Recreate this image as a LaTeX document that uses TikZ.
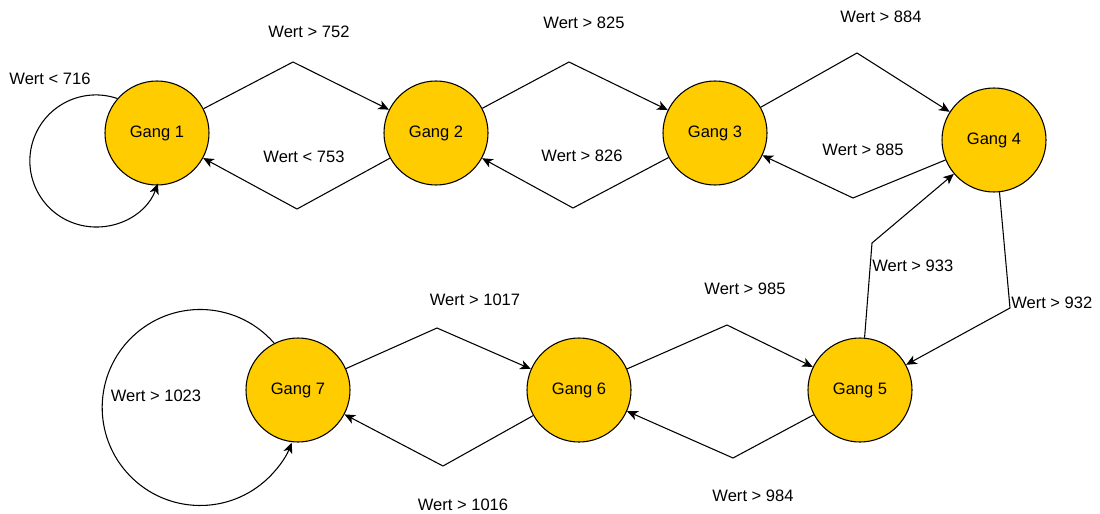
\documentclass[tikz,border=0pt]{standalone}
\usepackage{fontspec}
\setmainfont{Liberation Sans}
\usetikzlibrary{arrows.meta}
\definecolor{gangfill}{RGB}{255,204,0}
\begin{document}
\begin{tikzpicture}[x=0.75pt,y=0.75pt,
  font=\fontsize{12.4}{15}\selectfont,
  gang/.style={circle,draw=black,line width=0.8pt,fill=gangfill,minimum size=78pt,inner sep=0pt},
  trans/.style={draw=black,line width=0.8pt,-{Stealth[length=8pt,width=7pt,inset=2.2pt]}},
  lbl/.style={inner sep=0pt}]
\useasboundingbox (0,0) rectangle (1100,-514);

% states
\node[gang] (g1) at (157,-133) {Gang 1};
\node[gang] (g2) at (436,-133) {Gang 2};
\node[gang] (g3) at (715,-133) {Gang 3};
\node[gang] (g4) at (994,-140) {Gang 4};
\node[gang] (g5) at (860,-390) {Gang 5};
\node[gang] (g6) at (579,-390) {Gang 6};
\node[gang] (g7) at (298,-390) {Gang 7};

% bend points of the transitions
\coordinate (b12) at (293,-62);
\coordinate (b21) at (297,-209);
\coordinate (b23) at (569,-62);
\coordinate (b32) at (573,-208);
\coordinate (b34) at (857,-53);
\coordinate (b43) at (853,-198);
\coordinate (b45) at (1010,-308);
\coordinate (b54) at (872,-243);
\coordinate (b56) at (733,-458);
\coordinate (b65) at (727,-325);
\coordinate (b67) at (443,-466);
\coordinate (b76) at (437,-328);

% transitions
\draw[trans] (g1) -- (b12) -- (g2);
\draw[trans] (g2) -- (b21) -- (g1);
\draw[trans] (g2) -- (b23) -- (g3);
\draw[trans] (g3) -- (b32) -- (g2);
\draw[trans] (g3) -- (b34) -- (g4);
\draw[trans] (g4) -- (b43) -- (g3);
\draw[trans] (g4.276) -- (b45) -- (g5);
\draw[trans] (g5.85) -- (b54) -- (g4);
\draw[trans] (g5) -- (b56) -- (g6);
\draw[trans] (g6) -- (b65) -- (g5);
\draw[trans] (g6) -- (b67) -- (g7);
\draw[trans] (g7) -- (b76) -- (g6);

% self loops
\draw[trans] (g1.139) arc[start angle=71,end angle=340,radius=66];
\draw[trans] (g7.117.5) arc[start angle=41,end angle=339,radius=98];

% conditions
\node[lbl] (l716)  at (50,-79)   {Wert < 716};
\node[lbl] (l752)  at (309,-32)  {Wert > 752};
\node[lbl] (l753)  at (304,-157) {Wert < 753};
\node[lbl] (l825)  at (584,-23)  {Wert > 825};
\node[lbl] (l826)  at (582,-156) {Wert > 826};
\node[lbl] (l884)  at (881,-17)  {Wert > 884};
\node[lbl] (l885)  at (863,-150) {Wert > 885};
\node[lbl,anchor=west] (l933) at (872,-266) {Wert > 933};
\node[lbl,anchor=west] (l932) at (1011,-303) {Wert > 932};
\node[lbl] (l1017) at (475,-300) {Wert > 1017};
\node[lbl] (l985)  at (745,-289) {Wert > 985};
\node[lbl] (l984)  at (753,-496) {Wert > 984};
\node[lbl] (l1016) at (463,-505) {Wert > 1016};
\node[lbl] (l1023) at (156,-396) {Wert > 1023};
\end{tikzpicture}
\end{document}
